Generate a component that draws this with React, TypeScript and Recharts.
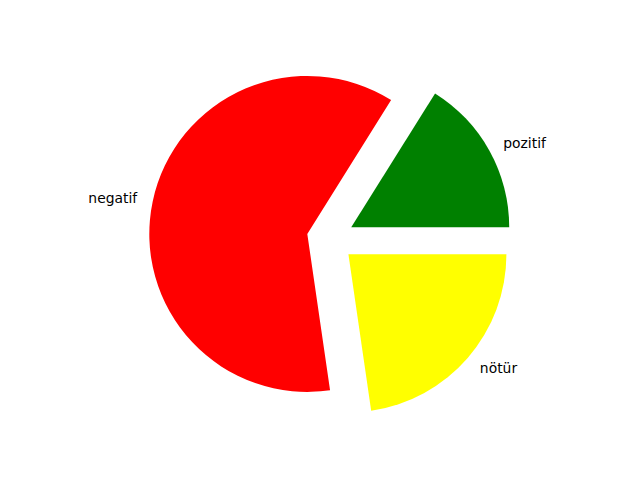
import React from 'react';
import { PieChart, Pie, Cell } from 'recharts';

// slice data (shares in percent)
const labels = ['pozitif', 'negatif', 'nötür'];
const values = [16.1, 61.2, 22.7];
const colors = ['green', 'red', 'yellow'];

const data = labels.map((name, i) => ({ name, value: values[i] }));

const CX = 330.5;
const CY = 238.8;
const RADIUS = 158;
const EXPLODE = 0.15;
const RADIAN = Math.PI / 180;

const total = values.reduce((a, b) => a + b, 0);

function midAngleOf(idx: number) {
  let before = 0;
  for (let i = 0; i < idx; i++) before += values[i];
  return ((before + values[idx] / 2) / total) * 360;
}

function makeLabel(slice: number) {
  return (props: any) => {
    if (props.index !== slice) return null;
    const { cx, cy, midAngle, outerRadius, name } = props;
    const x = cx + 1.1 * outerRadius * Math.cos(midAngle * RADIAN);
    const y = cy - 1.1 * outerRadius * Math.sin(midAngle * RADIAN);
    return (
      <text
        x={x}
        y={y}
        textAnchor={x > cx ? 'start' : 'end'}
        dominantBaseline="central"
        fontFamily="DejaVu Sans"
        fontSize={13.9}
        fill="#000"
      >
        {name}
      </text>
    );
  };
}

export default function App() {
  return (
    <div style={{ position: 'absolute', left: 0, top: 0, width: 640, height: 480, background: '#fff' }}>
      <PieChart width={640} height={480} margin={{ top: 0, right: 0, bottom: 0, left: 0 }}>
        {data.map((d, k) => {
          const mid = midAngleOf(k);
          const off = EXPLODE * RADIUS;
          return (
            <Pie
              key={d.name}
              data={data}
              dataKey="value"
              nameKey="name"
              cx={CX + off * Math.cos(mid * RADIAN)}
              cy={CY - off * Math.sin(mid * RADIAN)}
              outerRadius={RADIUS}
              startAngle={0}
              endAngle={360}
              stroke="none"
              label={makeLabel(k)}
              labelLine={false}
              isAnimationActive={false}
            >
              {data.map((_, i) => (
                <Cell key={i} fill={i === k ? colors[i] : 'none'} />
              ))}
            </Pie>
          );
        })}
      </PieChart>
    </div>
  );
}
